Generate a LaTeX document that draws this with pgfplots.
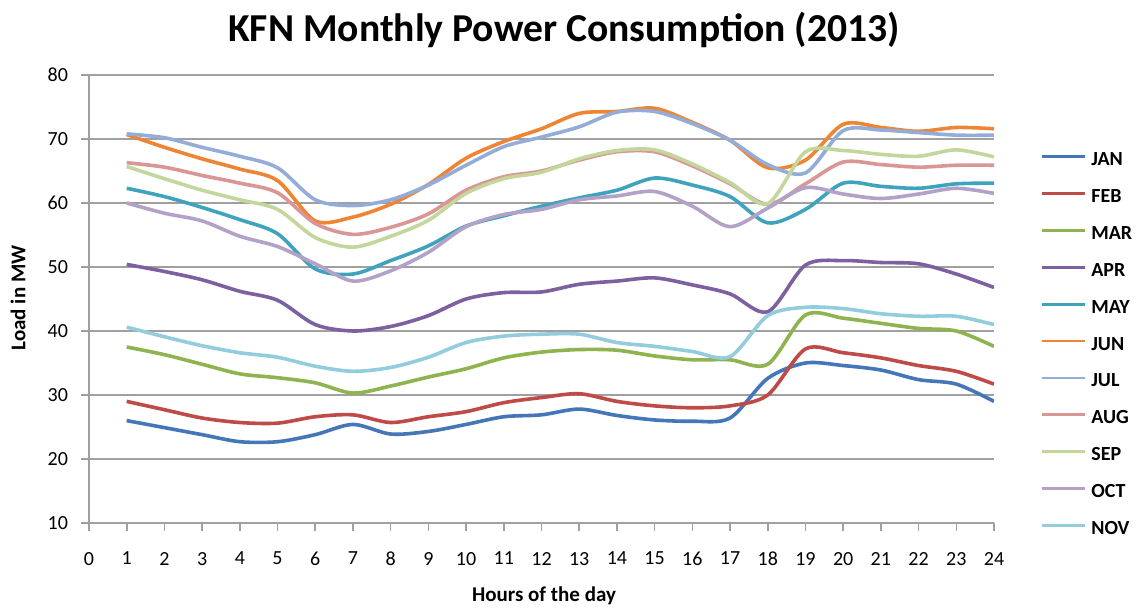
\documentclass[border=0pt]{standalone}
\usepackage{fontspec}
\setmainfont{Carlito}
\usepackage{pgfplots}
\usepackage{pgfplotstable}
\pgfplotsset{compat=1.18}

\definecolor{cjan}{HTML}{4576B8}
\definecolor{cfeb}{HTML}{BE4B48}
\definecolor{cmar}{HTML}{8FB34F}
\definecolor{capr}{HTML}{7D60A0}
\definecolor{cmay}{HTML}{40A3BD}
\definecolor{cjun}{HTML}{EE8535}
\definecolor{cjul}{HTML}{93ACD8}
\definecolor{caug}{HTML}{D99694}
\definecolor{csep}{HTML}{C3D69B}
\definecolor{coct}{HTML}{B3A2C7}
\definecolor{cnov}{HTML}{93CDDD}
\definecolor{axgray}{HTML}{A0A0A0}

% hourly load in MW, one column per month
\pgfplotstableread{
h  JAN  FEB  MAR  APR  MAY  JUN  JUL  AUG  SEP  OCT  NOV
1  26.0 29.0 37.5 50.4 62.3 70.7 70.8 66.3 65.7 60.0 40.6
2  24.9 27.7 36.3 49.3 61.0 68.7 70.2 65.6 63.8 58.4 39.1
3  23.8 26.4 34.8 48.0 59.3 66.9 68.7 64.3 62.0 57.2 37.7
4  22.7 25.7 33.3 46.2 57.4 65.3 67.3 63.1 60.5 54.8 36.6
5  22.7 25.6 32.7 44.8 55.2 63.5 65.5 61.6 59.0 53.2 35.9
6  23.8 26.6 31.9 41.0 49.7 57.2 60.5 56.8 54.6 50.5 34.5
7  25.4 26.9 30.3 40.0 48.9 57.8 59.6 55.1 53.1 47.8 33.7
8  23.9 25.7 31.4 40.7 51.0 59.8 60.5 56.2 54.8 49.4 34.3
9  24.3 26.6 32.8 42.4 53.3 62.9 62.8 58.3 57.3 52.3 35.9
10 25.4 27.4 34.1 45.0 56.4 67.0 65.9 62.0 61.5 56.3 38.2
11 26.6 28.8 35.8 46.0 58.0 69.6 68.8 64.1 63.8 58.2 39.2
12 26.9 29.6 36.7 46.1 59.5 71.6 70.3 65.0 64.8 59.0 39.5
13 27.8 30.2 37.1 47.3 60.8 74.0 71.9 66.7 66.9 60.5 39.5
14 26.8 29.0 37.0 47.8 62.0 74.3 74.2 68.0 68.2 61.1 38.2
15 26.1 28.3 36.1 48.3 63.9 74.8 74.3 68.0 68.3 61.8 37.6
16 25.9 28.0 35.5 47.2 62.8 72.6 72.4 65.8 66.1 59.5 36.8
17 26.4 28.3 35.5 45.8 61.0 69.8 69.8 63.0 63.2 56.3 36.0
18 32.6 30.0 34.8 43.0 56.9 65.5 66.0 59.8 59.9 59.2 42.4
19 35.0 37.2 42.5 50.3 59.0 66.7 64.7 63.0 68.0 62.4 43.7
20 34.6 36.6 42.0 51.0 63.1 72.3 71.3 66.4 68.2 61.4 43.5
21 33.9 35.8 41.2 50.7 62.6 71.8 71.4 66.0 67.6 60.7 42.7
22 32.4 34.6 40.4 50.5 62.3 71.2 71.0 65.6 67.3 61.4 42.3
23 31.7 33.7 40.0 48.9 63.0 71.8 70.6 65.9 68.3 62.3 42.3
24 29.0 31.7 37.6 46.8 63.1 71.6 70.6 65.9 67.2 61.5 41.0
}\loaddata

\begin{document}
\begin{tikzpicture}
\useasboundingbox (0,0) rectangle (569.5pt,304pt);
\begin{axis}[
    at={(44.5pt,42.5pt)}, anchor=south west,
    scale only axis, width=452.5pt, height=224pt,
    xmin=0, xmax=24, ymin=10, ymax=80,
    xtick={0,...,24}, ytick={10,20,...,80},
    axis x line*=bottom, axis y line*=left,
    axis line style={axgray, line width=0.8pt},
    ymajorgrids, grid style={axgray, line width=0.7pt},
    tick style={axgray, line width=0.8pt},
    tick align=outside, major tick length=4pt,
    /pgf/number format/assume math mode=true,
    ticklabel style={font=\fontsize{10}{12}\selectfont},
    xticklabel style={yshift=-7pt},
    yticklabel style={xshift=-3pt},
    every axis plot/.append style={smooth, line width=1.8pt, mark=none},
    legend style={draw=none, fill=none, inner sep=0pt,
        at={(1.051,0.830)}, anchor=north west,
        font=\bfseries\fontsize{10}{12}\selectfont, row sep=11.45pt,
        nodes={inner sep=0pt, text height=7pt, text depth=0pt},
        /tikz/every odd column/.append style={column sep=2.5pt}},
    legend cell align=left,
    legend image code/.code={\draw[#1, line width=1.4pt] (0pt,1pt) -- (21.5pt,1pt);},
]
\addplot[cjan] table[x=h, y=JAN] {\loaddata};
\addplot[cfeb] table[x=h, y=FEB] {\loaddata};
\addplot[cmar] table[x=h, y=MAR] {\loaddata};
\addplot[capr] table[x=h, y=APR] {\loaddata};
\addplot[cmay] table[x=h, y=MAY] {\loaddata};
\addplot[cjun] table[x=h, y=JUN] {\loaddata};
\addplot[cjul] table[x=h, y=JUL] {\loaddata};
\addplot[caug] table[x=h, y=AUG] {\loaddata};
\addplot[csep] table[x=h, y=SEP] {\loaddata};
\addplot[coct] table[x=h, y=OCT] {\loaddata};
\addplot[cnov] table[x=h, y=NOV] {\loaddata};
\legend{JAN,FEB,MAR,APR,MAY,JUN,JUL,AUG,SEP,OCT,NOV}
\end{axis}
\node[font=\bfseries\fontsize{19.8}{22}\selectfont] at (282pt,289pt) {KFN Monthly Power Consumption (2013)};
\node[font=\bfseries\fontsize{10.5}{12}\selectfont] at (272pt,6pt) {Hours of the day};
\node[font=\bfseries\fontsize{10.5}{12}\selectfont, rotate=90] at (9pt,155pt) {Load in MW};
\end{tikzpicture}
\end{document}
